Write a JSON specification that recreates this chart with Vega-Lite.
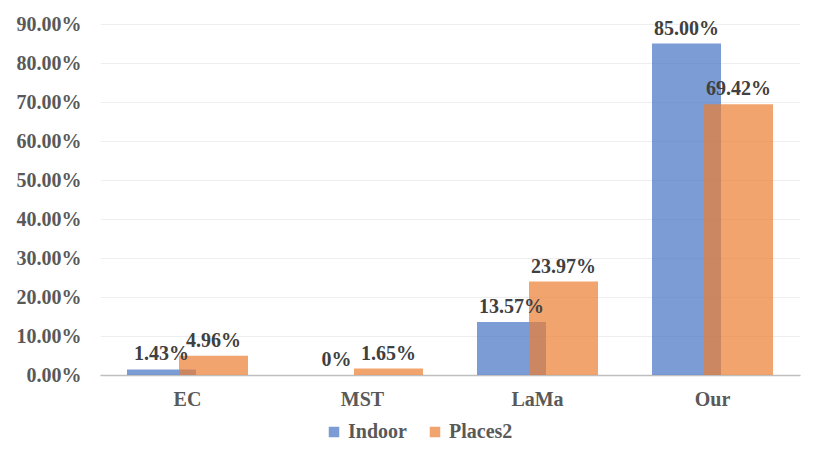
{
  "$schema": "https://vega.github.io/schema/vega-lite/v6.json",
  "autosize": {"type": "none"},
  "padding": {"left": 100, "top": 24, "right": 22, "bottom": 88},
  "width": 700,
  "height": 351,
  "background": "white",
  "config": {
    "view": {"stroke": null},
    "font": "'Times New Roman', 'Liberation Serif', serif"
  },
  "data": {
    "values": [
      {"method": "EC", "series": "Indoor", "value": 1.43, "label": "1.43%"},
      {"method": "EC", "series": "Places2", "value": 4.96, "label": "4.96%"},
      {"method": "MST", "series": "Indoor", "value": 0, "label": "0%"},
      {"method": "MST", "series": "Places2", "value": 1.65, "label": "1.65%"},
      {"method": "LaMa", "series": "Indoor", "value": 13.57, "label": "13.57%"},
      {"method": "LaMa", "series": "Places2", "value": 23.97, "label": "23.97%"},
      {"method": "Our", "series": "Indoor", "value": 85.0, "label": "85.00%"},
      {"method": "Our", "series": "Places2", "value": 69.42, "label": "69.42%"}
    ]
  },
  "encoding": {
    "x": {
      "field": "method",
      "type": "nominal",
      "sort": ["EC", "MST", "LaMa", "Our"],
      "scale": {"paddingInner": 0, "paddingOuter": 0},
      "axis": {
        "title": null,
        "labelAngle": 0,
        "ticks": false,
        "domainColor": "#bfbfbf",
        "domainWidth": 1.5,
        "labelFont": "'Times New Roman', 'Liberation Serif', serif",
        "labelFontWeight": "bold",
        "labelFontSize": 20,
        "labelColor": "#595959",
        "labelPadding": 14
      }
    },
    "y": {
      "field": "value",
      "type": "quantitative",
      "scale": {"domain": [0, 90], "nice": false},
      "axis": {
        "title": null,
        "values": [0, 10, 20, 30, 40, 50, 60, 70, 80, 90],
        "labelExpr": "format(datum.value, '.2f') + '%'",
        "domain": false,
        "ticks": false,
        "gridColor": "#eeeeee",
        "labelFont": "'Times New Roman', 'Liberation Serif', serif",
        "labelFontWeight": "bold",
        "labelFontSize": 20,
        "labelColor": "#595959",
        "labelPadding": 19
      }
    }
  },
  "layer": [
    {
      "transform": [{"filter": "datum.series === 'Indoor'"}],
      "mark": {"type": "bar", "width": 69, "xOffset": -26, "opacity": 0.7},
      "encoding": {
        "color": {
          "field": "series",
          "type": "nominal",
          "scale": {"domain": ["Indoor", "Places2"], "range": ["#4472C4", "#ED7D31"]},
          "legend": {
            "title": null,
            "orient": "none",
            "direction": "horizontal",
            "legendX": 224,
            "legendY": 398,
            "symbolType": "square",
            "symbolSize": 110,
            "symbolOpacity": 0.7,
            "labelFont": "'Times New Roman', 'Liberation Serif', serif",
            "labelFontWeight": "bold",
            "labelFontSize": 20,
            "labelColor": "#595959",
            "columnPadding": 18
          }
        }
      }
    },
    {
      "transform": [{"filter": "datum.series === 'Places2'"}],
      "mark": {"type": "bar", "width": 69, "xOffset": 26, "opacity": 0.7},
      "encoding": {
        "color": {"field": "series", "type": "nominal"}
      }
    },
    {
      "transform": [{"filter": "datum.series === 'Indoor'"}],
      "mark": {
        "type": "text",
        "xOffset": -26,
        "dy": -5,
        "baseline": "bottom",
        "font": "'Times New Roman', 'Liberation Serif', serif",
        "fontWeight": "bold",
        "fontSize": 20,
        "color": "#404040"
      },
      "encoding": {"text": {"field": "label"}}
    },
    {
      "transform": [{"filter": "datum.series === 'Places2'"}],
      "mark": {
        "type": "text",
        "xOffset": 26,
        "dy": -5,
        "baseline": "bottom",
        "font": "'Times New Roman', 'Liberation Serif', serif",
        "fontWeight": "bold",
        "fontSize": 20,
        "color": "#404040"
      },
      "encoding": {"text": {"field": "label"}}
    }
  ]
}
